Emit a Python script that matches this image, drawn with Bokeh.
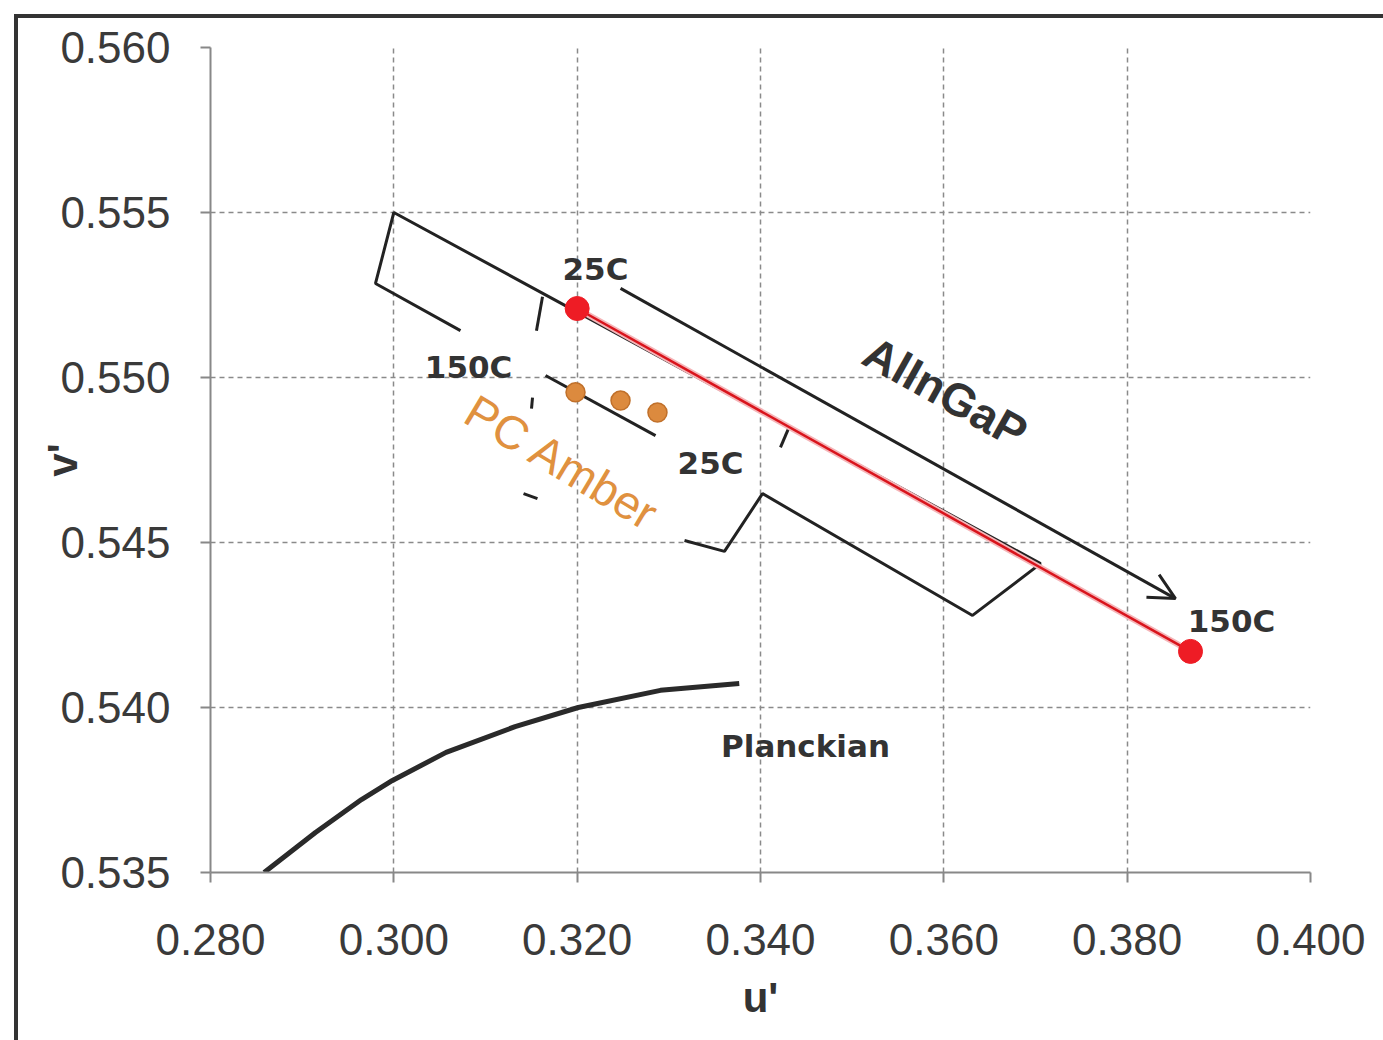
from bokeh.plotting import figure
from bokeh.models import Arrow, OpenHead, FixedTicker, Range1d
from bokeh.core.properties import value
from bokeh.embed import file_html
from bokeh.resources import INLINE

# ---- data (u', v') ----
x_ticks = [0.280, 0.300, 0.320, 0.340, 0.360, 0.380, 0.400]
y_ticks = [0.535, 0.540, 0.545, 0.550, 0.555, 0.560]

# AlInGaP region outline (open path)
region_u = [0.30727, 0.2980, 0.3000, 0.37055, 0.36313, 0.34022, 0.33607, 0.33171]
region_v = [0.55142, 0.55285, 0.5550, 0.54436, 0.54279, 0.54648, 0.54473, 0.54506]

# fragments of the PC Amber region outline
frag_u = [[0.31622, 0.31556], [0.31513, 0.31502], [0.31415, 0.31567], [0.34218, 0.34305]]
frag_v = [[0.55245, 0.55142], [0.54939, 0.54906], [0.54648, 0.54633], [0.54788, 0.54845]]

# AlInGaP shift 25C -> 150C
alingap_u = [0.3200, 0.38691]
alingap_v = [0.55209, 0.54170]

# arrow 25C -> 150C
arrow_u = [0.32473, 0.38527]
arrow_v = [0.55270, 0.54330]

# PC Amber shift line and points
pc_line_u = [0.31655, 0.32855]
pc_line_v = [0.55006, 0.54824]
pc_u = [0.31982, 0.32473, 0.32876]
pc_v = [0.54955, 0.54930, 0.54894]

# Planckian locus
planck_u = [0.28585, 0.29145, 0.29647, 0.29985, 0.30570, 0.31323, 0.32012, 0.32909, 0.33768]
planck_v = [0.53500, 0.53621, 0.53721, 0.53779, 0.53864, 0.53942, 0.54000, 0.54052, 0.54073]

# labels
lab_text = ["25C", "150C", "25C", "150C", "Planckian"]
lab_u = [0.32200, 0.30815, 0.33455, 0.39138, 0.34491]
lab_v = [0.55330, 0.55033, 0.54742, 0.54261, 0.53882]

FW, FH = 1100, 825
p = figure(width=1365, height=1022, output_backend="svg", toolbar_location=None,
           x_range=Range1d(0.280, 0.400), y_range=Range1d(0.535, 0.560),
           frame_width=FW, frame_height=FH,
           min_border_left=192, min_border_top=29, min_border_right=73, min_border_bottom=168,
           background_fill_color="white", border_fill_color="white",
           styles={"margin-left": "14px", "margin-top": "14px",
                   "border-left": "4px solid #333", "border-top": "4px solid #333"})
p.outline_line_color = None

for ax in (p.xaxis[0], p.yaxis[0]):
    ax.axis_line_color = "#888888"
    ax.axis_line_width = 2
    ax.major_tick_line_color = "#888888"
    ax.major_tick_line_width = 2
    ax.major_tick_out = 10
    ax.major_tick_in = 0
    ax.minor_tick_line_color = None
    ax.major_label_text_font = "Liberation Sans"
    ax.major_label_text_font_size = "44px"
    ax.major_label_text_color = "#3a3a3a"
    ax.axis_label_text_font = "Liberation Sans"
    ax.axis_label_text_font_size = "42px"
    ax.axis_label_text_font_style = "bold"
    ax.axis_label_text_color = "#333333"

p.xaxis.ticker = FixedTicker(ticks=x_ticks)
p.yaxis.ticker = FixedTicker(ticks=y_ticks)
p.xaxis.major_label_overrides = {t: f"{t:.3f}" for t in x_ticks}
p.yaxis.major_label_overrides = {t: f"{t:.3f}" for t in y_ticks}
p.xaxis.axis_label = "u'"
p.yaxis.axis_label = "v'"
p.xaxis.axis_label_text_align = "right"
p.yaxis.axis_label_text_align = "left"
p.xaxis.major_label_standoff = 41
p.yaxis.major_label_standoff = 30
p.xaxis.axis_label_standoff = 16
p.yaxis.axis_label_standoff = -29

for g in (p.xgrid[0], p.ygrid[0]):
    g.grid_line_color = "#8a8a8a"
    g.grid_line_width = 1.5
    g.grid_line_dash = "5 4"

# Planckian
p.line(planck_u, planck_v, line_color="#2a2a2a", line_width=5, line_join="round")

# region outline
p.line(region_u, region_v, line_color="#222222", line_width=3)
p.multi_line(frag_u, frag_v, line_color="#222222", line_width=3)

# arrow
p.add_layout(Arrow(end=OpenHead(size=26, line_width=3, line_color="#222222"),
                   x_start=arrow_u[0], y_start=arrow_v[0], x_end=arrow_u[1], y_end=arrow_v[1],
                   line_color="#222222", line_width=3))

# AlInGaP red line and points
p.line(alingap_u, alingap_v, line_color="#f5b5b8", line_width=6)
p.line(alingap_u, alingap_v, line_color="#d9141c", line_width=2.5)
p.scatter(alingap_u, alingap_v, size=24, fill_color="#ee1c25", line_color="#ee1c25")

# PC Amber
p.line(pc_line_u, pc_line_v, line_color="#222222", line_width=3)
p.scatter(pc_u, pc_v, size=19, fill_color="#dc8a3e", line_color="#c0702a", line_width=1.5)

# labels
p.text(lab_u, lab_v, text=lab_text, text_font=value("DejaVu Sans"), text_font_style="bold",
       text_font_size="31px", text_color="#333333", text_align="center", text_baseline="middle")
p.text([0.36018], [0.54955], text=["AlInGaP"], angle=-0.51, text_font=value("Liberation Sans"),
       text_font_style="bold", text_font_size="46px", text_color="#333333",
       text_align="center", text_baseline="middle")
p.text([0.31840], [0.54742], text=["PC Amber"], angle=-0.54, text_font=value("Liberation Sans"),
       text_font_size="47px", text_color="#e0913f",
       text_align="center", text_baseline="middle")

open("out.html", "w").write(file_html(p, INLINE))
